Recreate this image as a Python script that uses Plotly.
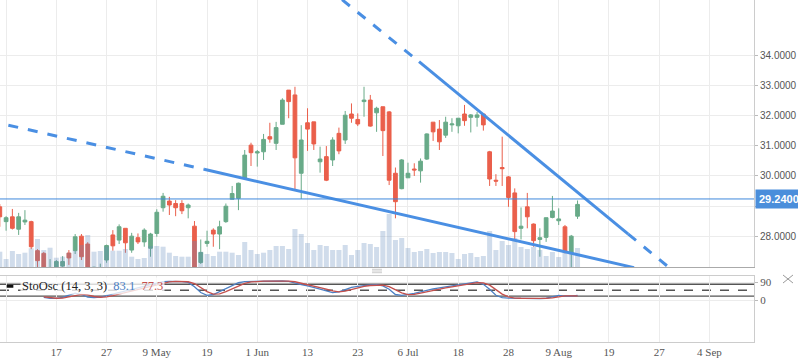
import plotly.graph_objects as go

# ---------------- data ----------------
day_index = list(range(-9, 84))

opens = [28.98, 28.49, 28.65, 28.24, 28.48, 28.49, 27.53, 27.44, 26.88,
         26.95, 27.02, 27.45, 27.53, 28.01, 27.75, 26.85, 26.90, 27.22, 28.05,
         27.88, 28.27, 27.55, 27.96, 27.82, 27.61, 28.10, 28.95, 29.17, 29.09,
         29.09, 28.95, 28.34, 27.14, 27.77, 28.21, 28.08, 28.49, 29.23, 29.26,
         29.92, 31.02, 30.76, 30.80, 31.30, 31.08, 31.71, 32.84, 32.68, 30.09,
         31.76, 31.79, 30.47, 30.64, 30.53, 31.41, 31.19, 32.05, 31.87, 32.46,
         32.51, 32.09, 32.29, 32.12, 30.09, 29.58, 29.94, 30.23, 30.17, 30.56,
         31.78, 31.55, 31.35, 31.69, 31.66, 32.05, 31.94, 31.94, 32.05, 30.80,
         29.86, 30.28, 29.97, 29.44, 28.27, 28.98, 28.41, 27.90, 27.97, 28.63,
         28.52, 28.32, 27.44, 28.67]
highs = [29.07, 28.67, 28.91, 28.78, 28.87, 28.52, 27.58, 27.49, 27.25,
         27.22, 27.35, 27.55, 28.08, 28.08, 27.81, 27.00, 27.10, 27.73, 28.21,
         28.40, 28.27, 28.12, 28.10, 28.27, 28.12, 28.90, 29.44, 29.31, 29.20,
         29.20, 29.09, 28.51, 27.90, 28.19, 28.27, 28.52, 29.09, 29.67, 29.78,
         30.86, 31.10, 30.86, 31.39, 31.76, 31.79, 32.57, 32.84, 32.95, 31.68,
         32.24, 31.79, 30.97, 30.99, 31.28, 31.60, 32.15, 32.40, 32.07, 32.95,
         32.68, 32.29, 32.29, 32.15, 30.28, 30.56, 30.44, 30.42, 30.58, 31.41,
         31.78, 31.85, 31.96, 31.91, 31.91, 32.35, 32.05, 32.12, 32.05, 30.83,
         30.06, 31.30, 30.00, 29.59, 28.96, 29.44, 28.43, 28.27, 28.62, 29.34,
         28.93, 28.38, 28.05, 29.19]
lows = [28.32, 28.19, 28.23, 28.05, 28.38, 27.58, 26.90, 26.85, 26.80,
        26.90, 26.97, 27.06, 27.42, 27.22, 26.85, 26.70, 26.80, 27.13, 27.53,
        27.75, 27.46, 27.46, 27.75, 27.66, 27.33, 27.99, 28.82, 28.71, 28.67,
        28.74, 28.60, 26.90, 27.09, 27.66, 27.66, 27.58, 28.45, 29.23, 28.87,
        29.92, 30.33, 30.31, 30.53, 31.10, 30.86, 31.71, 31.91, 29.53, 29.24,
        30.83, 30.86, 30.11, 29.83, 30.33, 30.72, 31.06, 31.76, 31.65, 31.96,
        31.63, 31.46, 30.66, 29.70, 28.60, 29.56, 29.94, 30.00, 29.78, 30.53,
        31.16, 30.86, 31.26, 31.46, 31.41, 31.66, 31.44, 31.63, 31.50, 29.67,
        29.67, 29.67, 28.98, 27.90, 27.90, 28.27, 27.66, 27.33, 27.82, 28.60,
        28.38, 27.44, 26.99, 28.58]
closes = [28.65, 28.62, 28.27, 28.65, 28.54, 27.66, 27.20, 26.95, 26.97,
          27.17, 27.17, 27.29, 27.99, 27.33, 26.95, 26.98, 26.95, 27.70, 27.69,
          28.32, 27.79, 28.01, 27.82, 28.21, 28.08, 28.80, 29.33, 29.04, 28.95,
          28.85, 29.04, 26.98, 27.47, 27.84, 28.08, 28.32, 29.00, 29.42, 29.76,
          30.69, 30.77, 30.80, 31.21, 31.22, 31.60, 32.51, 32.46, 30.60, 31.19,
          31.55, 31.06, 30.56, 29.86, 31.19, 30.83, 32.01, 31.91, 31.72, 32.51,
          31.65, 32.24, 31.50, 29.86, 29.15, 30.53, 30.09, 30.20, 30.49, 31.39,
          31.46, 31.13, 31.78, 31.72, 31.91, 31.83, 32.02, 32.02, 31.69, 29.90,
          29.83, 30.24, 29.29, 28.16, 28.34, 28.65, 27.86, 27.96, 28.62, 28.84,
          28.58, 27.49, 28.01, 29.06]
volumes_m = [1.53, 0.80, 1.60, 1.30, 1.43, 1.87, 2.80, 1.70, 1.93,
             0.93, 1.03, 1.43, 1.63, 2.20, 3.20, 1.53, 1.60, 2.03, 1.63,
             1.63, 1.80, 1.03, 0.80, 0.90, 2.10, 2.10, 2.03, 1.43, 1.10,
             1.03, 1.03, 2.60, 1.53, 1.30, 1.10, 1.53, 1.53, 1.43, 1.20,
             2.50, 1.70, 1.30, 1.43, 1.70, 2.10, 2.10, 1.80, 3.80, 3.30,
             2.40, 1.70, 2.20, 2.10, 1.70, 1.70, 2.20, 1.20, 1.70, 2.40,
             2.30, 2.00, 3.60, 5.30, 2.70, 2.90, 1.90, 1.50, 1.60, 1.80,
             1.40, 1.50, 1.50, 1.40, 0.80, 1.30, 1.40, 1.00, 1.10, 3.60,
             1.70, 2.60, 2.20, 2.90, 2.00, 1.80, 2.00, 1.70, 1.10, 1.50,
             1.00, 1.50, 1.40, 1.90]

stoch_index = list(range(-2, 84))
stoch_k = [14, 8, 8, 14, 25, 35, 28, 15, 12, 15,
           22, 30, 38, 46, 54, 62, 70, 78, 87, 94, 95, 95, 94, 90, 68, 38, 24, 28,
           42, 58, 74, 88, 94, 95, 96, 96, 97, 97, 97, 95, 86, 78, 72, 65, 56, 46,
           38, 42, 54, 64, 70, 74, 77, 78, 72, 55, 28, 24, 28, 34, 42, 50, 57, 62,
           67, 72, 78, 85, 89, 92, 80, 55, 24, 12, 10, 9, 8, 8, 7, 7, 9, 18, 24,
           20, 20, 24]
stoch_d = [16, 12, 9, 10, 16, 25, 29, 26, 18, 14,
           16, 22, 30, 38, 46, 54, 62, 70, 78, 86, 92, 95, 95, 93, 84, 65, 43, 30,
           31, 43, 58, 73, 85, 92, 95, 96, 96, 97, 97, 96, 93, 86, 79, 72, 64, 56,
           47, 42, 45, 53, 63, 69, 74, 76, 76, 68, 52, 36, 27, 29, 35, 42, 50, 56,
           62, 67, 72, 78, 84, 89, 87, 76, 53, 30, 16, 10, 9, 8, 8, 7, 8, 11, 17,
           21, 21, 21]
stoch_levels = [80, 50, 20]
stoch_ticks = [90, 0]

last_price = 29.24

# trend lines (day index, price)
upper_dash_a_x = [45.5, 57.76]
upper_dash_a_y = [35.83, 33.78]
upper_solid_x = [57.76, 91.08]
upper_solid_y = [33.78, 28.08]
upper_dash_b_x = [91.08, 98.0]
upper_dash_b_y = [28.08, 26.90]
lower_dash_x = [-7.64, 23.52]
lower_dash_y = [31.68, 30.22]
lower_solid_x = [23.52, 92.0]
lower_solid_y = [30.22, 26.97]

tick_days = [-8, 0, 8, 16, 24, 32, 40, 48, 56, 64, 72, 80, 88, 96, 104]
tick_labels = ["", "17", "27", "9 May", "19", "1 Jun", "13", "23", "6 Jul",
               "18", "28", "9 Aug", "19", "27", "4 Sep"]
price_ticks = [28, 29, 30, 31, 32, 33, 34]
price_labels = ["28.0000", "", "30.0000", "31.0000", "32.0000", "33.0000", "34.0000"]

# ---------------- styling ----------------
GREEN = "#68aa88"
RED = "#ea5f4b"
TREND = "#4a8fe3"
GRID = "#ececec"
SERIF = "Liberation Serif"
SANS = "Liberation Sans"

fig = go.Figure()
fig.add_trace(go.Candlestick(
    x=day_index, open=opens, high=highs, low=lows, close=closes,
    increasing=dict(line=dict(color=GREEN, width=1), fillcolor=GREEN),
    decreasing=dict(line=dict(color=RED, width=1), fillcolor=RED),
    whiskerwidth=0, xaxis="x", yaxis="y", hoverinfo="skip", showlegend=False))
fig.add_trace(go.Bar(
    x=day_index, y=volumes_m, xaxis="x", yaxis="y3",
    marker=dict(color="rgba(100,140,190,0.3)", line=dict(width=0)),
    hoverinfo="skip", showlegend=False))
fig.add_trace(go.Scatter(
    x=stoch_index, y=stoch_k, mode="lines", xaxis="x2", yaxis="y2",
    line=dict(color="#4d80c4", width=1.3), showlegend=False, hoverinfo="skip"))
fig.add_trace(go.Scatter(
    x=stoch_index, y=stoch_d, mode="lines", xaxis="x2", yaxis="y2",
    line=dict(color="#c4504d", width=1.3), showlegend=False, hoverinfo="skip"))

shapes = []
def seg(xs, ys, dash):
    shapes.append(dict(type="line", xref="x", yref="y", layer="above",
                       x0=xs[0], y0=ys[0], x1=xs[1], y1=ys[1],
                       line=dict(color=TREND, width=3, dash=dash)))
seg(upper_dash_a_x, upper_dash_a_y, "10px,10px")
seg(upper_solid_x, upper_solid_y, "solid")
seg(upper_dash_b_x, upper_dash_b_y, "10px,10px")
seg(lower_dash_x, lower_dash_y, "10px,10px")
seg(lower_solid_x, lower_solid_y, "solid")

shapes.append(dict(type="line", xref="paper", yref="y", x0=0, x1=1,
                   y0=last_price, y1=last_price, layer="above",
                   line=dict(color="#3f88dc", width=1)))
for lv in stoch_levels:
    shapes.append(dict(type="line", xref="paper", yref="y2", x0=0, x1=1,
                       y0=lv, y1=lv, layer="below",
                       line=dict(color="#555555", width=1.4,
                                 dash="dash" if lv == 50 else "solid")))
# legend dash marker
shapes.append(dict(type="line", xref="paper", yref="y2", x0=0.0089, x1=0.0177,
                   y0=70, y1=70, layer="above",
                   line=dict(color="#111111", width=3)))
# panel grip
for gy in [0.2126, 0.2076, 0.2026]:
    shapes.append(dict(type="line", xref="paper", yref="paper", x0=0.4934,
                       x1=0.5066, y0=gy, y1=gy, line=dict(color="#cccccc", width=1)))
# close icon
shapes.append(dict(type="line", xref="paper", yref="paper", x0=1.0385, x1=1.0517,
                   y0=0.1959, y1=0.1725, line=dict(color="#999999", width=1)))
shapes.append(dict(type="line", xref="paper", yref="paper", x0=1.0385, x1=1.0517,
                   y0=0.1725, y1=0.1959, line=dict(color="#999999", width=1)))

annotations = [
    dict(xref="paper", yref="y", x=1, y=last_price, xanchor="left", yanchor="middle",
         xshift=1, text="<b>29.2400</b>", showarrow=False, bgcolor="#4a8edb",
         borderpad=3, font=dict(family=SANS, size=11, color="white")),
    dict(xref="paper", yref="y2", x=0, y=70, xanchor="left", yanchor="middle",
         xshift=20, showarrow=False, bgcolor="rgba(255,255,255,0.78)", borderpad=1,
         text=("<span style='color:#222'>StoOsc (14, 3, 3)</span>&nbsp;&nbsp;"
               "<span style='color:#4d80c4'>83.1</span>&nbsp;&nbsp;"
               "<span style='color:#c4504d'>77.3</span>"),
         font=dict(family=SERIF, size=12.5)),
]

fig.update_layout(
    width=798, height=363,
    margin=dict(l=0, r=44, t=0, b=21),
    paper_bgcolor="white", plot_bgcolor="white",
    boxgap=0.15,
    bargap=0.2,
    showlegend=False,
    shapes=shapes, annotations=annotations,
    xaxis=dict(domain=[0, 1], anchor="y", range=[-8.97, 111.1],
               tickvals=tick_days, ticktext=tick_labels, showticklabels=False,
               showgrid=True, gridcolor=GRID, gridwidth=1, zeroline=False,
               showline=True, linecolor="#aaaaaa", linewidth=1,
               rangeslider=dict(visible=False)),
    yaxis=dict(domain=[0.2193, 1], anchor="x", side="right",
               range=[26.99, 35.82], tickvals=price_ticks,
               ticktext=price_labels,
               showgrid=True, gridcolor=GRID, zeroline=False,
               showline=True, linecolor="#cccccc", ticks="outside", ticklen=3,
               tickcolor="#bbbbbb",
               tickfont=dict(family=SANS, size=10, color="#555555")),
    yaxis3=dict(overlaying="y", range=[0, 26.7], visible=False),
    xaxis2=dict(domain=[0, 1], anchor="y2", matches="x",
                tickvals=tick_days, ticktext=tick_labels,
                showgrid=True, gridcolor=GRID, zeroline=False,
                showline=True, mirror=True, linecolor="#cccccc", ticks="",
                tickfont=dict(family=SERIF, size=11, color="#555555")),
    yaxis2=dict(domain=[0, 0.1939], anchor="x2", side="right",
                range=[-214, 124], tickvals=stoch_ticks,
                ticktext=[str(v) for v in stoch_ticks],
                showgrid=True, gridcolor=GRID, zeroline=False,
                showline=True, mirror=True, linecolor="#cccccc",
                ticks="outside", ticklen=3, tickcolor="#bbbbbb",
                tickfont=dict(family=SERIF, size=11, color="#555555")),
)

fig.write_html("out.html", config={"displayModeBar": False},
               post_script="document.body.style.margin='0';")
